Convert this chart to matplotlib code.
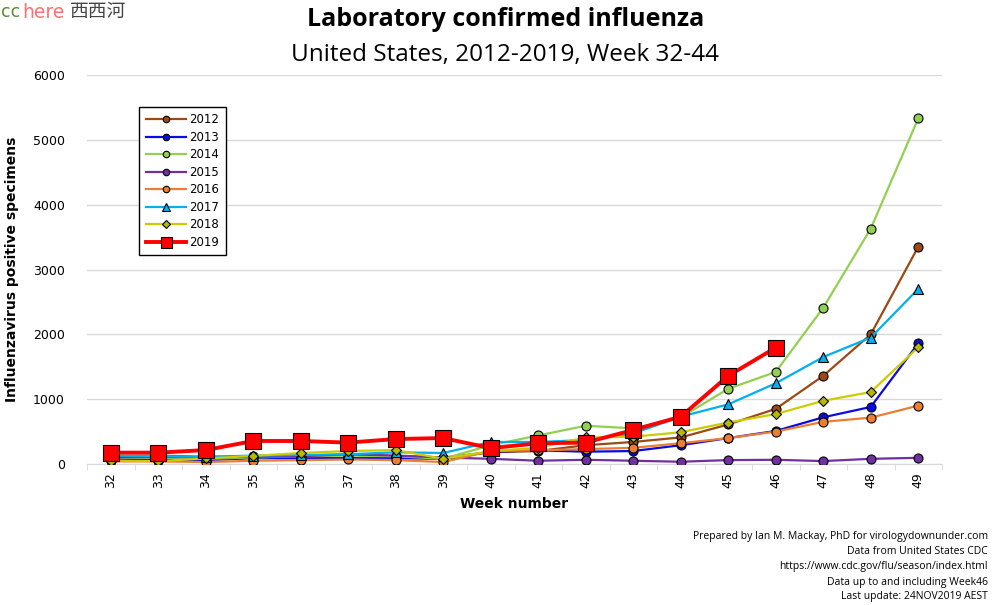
import numpy as np
import matplotlib
matplotlib.use("Agg")
import matplotlib.pyplot as plt
from matplotlib.ticker import MultipleLocator, FixedLocator

# weekly lab-confirmed influenza counts
weeks = [32, 33, 34, 35, 36, 37, 38, 39, 40, 41, 42, 43, 44, 45, 46, 47, 48, 49]

y2012 = [120, 130, 110, 120, 120, 140, 120, 100, 180, 200, 290, 340, 410, 610, 850, 1360, 2000, 3350]
y2013 = [70, 70, 60, 90, 90, 90, 90, 80, 190, 210, 190, 200, 290, 400, 510, 720, 880, 1860]
y2014 = [90, 100, 80, 100, 120, 130, 120, 80, 290, 440, 590, 550, 720, 1160, 1420, 2410, 3630, 5330]
y2015 = [100, 110, 100, 110, 120, 150, 130, 100, 80, 50, 65, 50, 35, 60, 65, 45, 80, 95]
y2016 = [40, 40, 30, 50, 60, 70, 60, 30, 200, 210, 230, 250, 320, 400, 500, 650, 715, 900]
y2017 = [130, 120, 110, 130, 140, 150, 180, 170, 340, 340, 370, 470, 730, 920, 1245, 1650, 1950, 2700]
y2018 = [50, 45, 85, 125, 170, 200, 215, 80, 200, 250, 410, 420, 490, 640, 770, 975, 1110, 1800]
y2019 = [175, 175, 215, 355, 355, 330, 385, 400, 245, 320, 330, 525, 730, 1360, 1795]

SERIES = [
    ("2012", y2012, "#9c4a14", "#9c4a14", "o", 6.5, 1.6),
    ("2013", y2013, "#0a0ae6", "#0a0ae6", "o", 6.5, 1.6),
    ("2014", y2014, "#92d050", "#92d050", "o", 6.5, 1.6),
    ("2015", y2015, "#7030a0", "#7030a0", "o", 6.5, 1.6),
    ("2016", y2016, "#ed7d31", "#ed7d31", "o", 6.5, 1.6),
    ("2017", y2017, "#00b0f0", "#00b0f0", "^", 7.5, 1.6),
    ("2018", y2018, "#cccc00", "#b8b800", "D", 5.5, 1.6),
    ("2019", y2019, "#ff0000", "#ff0000", "s", 11, 2.8),
]

fig = plt.figure(figsize=(9.97, 6.05), dpi=100)
ax = fig.add_axes([87 / 997, 1 - 464 / 605, 855 / 997, 389 / 605])

x = np.arange(len(weeks))
for lab, ys, lc, fc, mk, ms, lw in SERIES:
    n = len(ys)
    ax.plot(x[:n], ys, color=lc, lw=lw, marker=mk, ms=ms, mfc=fc,
            mec="black", mew=0.8, label=lab, zorder=3)

ax.set_xlim(-0.5, len(weeks) - 0.5)
ax.set_ylim(0, 6000)
ax.yaxis.set_major_locator(MultipleLocator(1000))
ax.set_xticks(x)
ax.set_xticklabels([str(w) for w in weeks], rotation=90, fontsize=9)
ax.xaxis.set_minor_locator(FixedLocator(np.arange(-0.5, len(weeks), 1.0)))
ax.tick_params(axis="x", which="major", length=0, pad=6)
ax.tick_params(axis="x", which="minor", length=4, color="#d9d9d9")
ax.tick_params(axis="y", length=0, labelsize=9, pad=16)
ax.grid(axis="y", color="#d9d9d9", lw=1)
ax.set_axisbelow(True)
for s in ["top", "right", "left"]:
    ax.spines[s].set_visible(False)
ax.spines["bottom"].set_color("#d9d9d9")

ax.set_xlabel("Week number", fontsize=10, fontweight="bold", labelpad=6)
ax.set_ylabel("Influenzavirus positive specimens", fontsize=10, fontweight="bold", labelpad=10)

leg = ax.legend(loc="upper left", bbox_to_anchor=(0.061, 0.918), borderaxespad=0,
                fancybox=False, edgecolor="black", fontsize=8.5, labelspacing=0.38,
                handlelength=3.4, handletextpad=0.3, borderpad=0.55, framealpha=1,
                markerscale=0.72)
leg.get_frame().set_linewidth(1.0)

fig.text(0.507, 1 - 20 / 605, "Laboratory confirmed influenza", ha="center", va="center",
         fontsize=18, fontweight="bold", family="Open Sans")
fig.text(0.507, 1 - 55 / 605, "United States, 2012-2019, Week 32-44", ha="center",
         va="center", fontsize=17.5, family="Open Sans")

# logo
fig.text(1 / 997, 1 - 12 / 605, "cc", color="#5a8a32", fontsize=12.5, va="center")
fig.text(22 / 997, 1 - 12 / 605, "here", color="#ff7070", fontsize=13.5, va="center")
fig.text(70 / 997, 1 - 12 / 605, "西西河", color="#444444", fontsize=13.5, va="center",
         family=["Noto Sans CJK SC", "DejaVu Sans"])

foot = ["Prepared by Ian M. Mackay, PhD for virologydownunder.com",
        "Data from United States CDC",
        "https://www.cdc.gov/flu/season/index.html",
        "Data up to and including Week46",
        "Last update: 24NOV2019 AEST"]
for i, t in enumerate(foot):
    fig.text(988 / 997, 1 - (537 + 15 * i) / 605, t, ha="right", va="center",
             fontsize=7.5, family="Open Sans")

fig.savefig("out.png", dpi=100)
